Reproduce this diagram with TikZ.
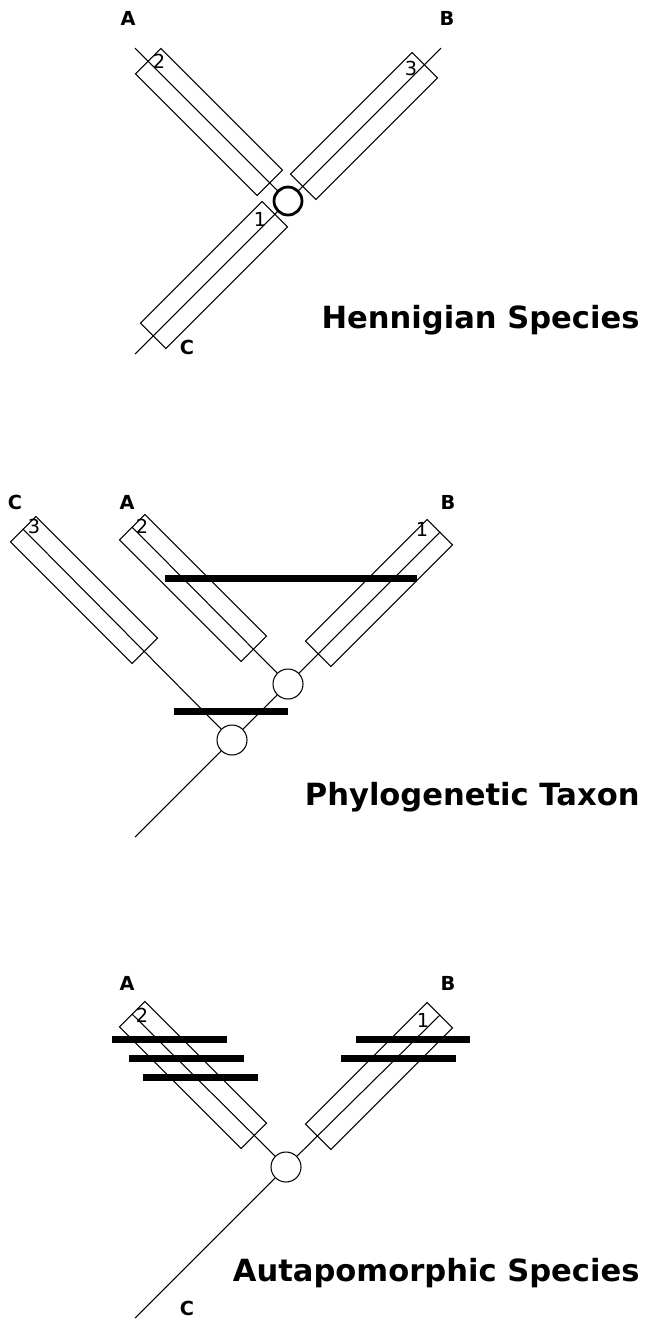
\documentclass[tikz,border=0pt]{standalone}
\usepackage{fontspec}
\setsansfont{DejaVu Sans}
\usepackage{tikz}

\begin{document}
\begin{tikzpicture}[x=0.02cm, y=-0.02cm, line width=0.6pt, font=\sffamily,
    branchbox/.style={draw, rectangle, minimum width=3.44cm, minimum height=0.72cm, inner sep=0pt},
    ancestor/.style={draw, circle, minimum size=0.6cm, inner sep=0pt},
    synapo/.style={line width=0.14cm},
    taxon/.style={font=\sffamily\bfseries\fontsize{11}{13}\selectfont},
    charnum/.style={font=\sffamily\fontsize{11}{13}\selectfont},
    titletext/.style={font=\sffamily\bfseries\fontsize{17.4}{20}\selectfont, anchor=base east, inner sep=0pt}]
    \useasboundingbox (0,0) rectangle (646,1320);

    % Hennigian species
    \node[ancestor, line width=1.6pt, minimum size=0.56cm] (n1) at (288,201) {};
    \node[branchbox, rotate=-45] (boxA1) at (209,122) {};
    \node[branchbox, rotate=45] (boxB1) at (364,126) {};
    \node[branchbox, rotate=45] (boxC1) at (214,275) {};
    \coordinate (tA1) at (135,48);
    \coordinate (tB1) at (441,48);
    \coordinate (tC1) at (135,354);
    \draw (tA1) -- (n1);
    \draw (tB1) -- (n1);
    \draw (tC1) -- (n1);
    \node[taxon] (labA1) at (128,18) {A};
    \node[taxon] (labB1) at (447,18) {B};
    \node[taxon] (labC1) at (187,347) {C};
    \node[charnum] (num2a) at (159,61) {2};
    \node[charnum] (num3a) at (411,68) {3};
    \node[charnum] (num1a) at (260,219) {1};
    \node[titletext] (title1) at (640,328) {Hennigian Species};

    % Phylogenetic taxon
    \node[ancestor] (u2) at (288,684) {};
    \node[ancestor] (l2) at (232,740) {};
    \node[branchbox, rotate=-45] (boxC2) at (84,590) {};
    \node[branchbox, rotate=-45] (boxA2) at (193,588) {};
    \node[branchbox, rotate=45] (boxB2) at (379,593) {};
    \coordinate (root2) at (135,837);
    \draw (boxC2.west) -- (l2);
    \draw (boxA2.west) -- (u2);
    \draw (boxB2.east) -- (u2);
    \draw (u2) -- (l2);
    \draw (l2) -- (root2);
    \draw[synapo] (165,578) -- (417,578);
    \draw[synapo] (174,711) -- (288,711);
    \node[taxon] (labC2) at (15,502) {C};
    \node[taxon] (labA2) at (127,502) {A};
    \node[taxon] (labB2) at (448,502) {B};
    \node[charnum] (num3b) at (34,526) {3};
    \node[charnum] (num2b) at (142,526) {2};
    \node[charnum] (num1b) at (422,529) {1};
    \node[titletext] (title2) at (640,805) {Phylogenetic Taxon};

    % Autapomorphic species
    \node[ancestor] (n3) at (286,1167) {};
    \node[branchbox, rotate=-45] (boxA3) at (193,1075) {};
    \node[branchbox, rotate=45] (boxB3) at (379,1076) {};
    \coordinate (root3) at (135,1318);
    \draw (boxA3.west) -- (n3);
    \draw (boxB3.east) -- (n3);
    \draw (n3) -- (root3);
    \draw[synapo] (112,1039) -- (227,1039);
    \draw[synapo] (129,1058) -- (244,1058);
    \draw[synapo] (143,1077) -- (258,1077);
    \draw[synapo] (356,1039) -- (470,1039);
    \draw[synapo] (341,1058) -- (456,1058);
    \node[taxon] (labA3) at (127,983) {A};
    \node[taxon] (labB3) at (448,983) {B};
    \node[taxon] (labC3) at (187,1308) {C};
    \node[charnum] (num2c) at (142,1015) {2};
    \node[charnum] (num1c) at (423,1020) {1};
    \node[titletext] (title3) at (640,1281) {Autapomorphic Species};
\end{tikzpicture}
\end{document}
